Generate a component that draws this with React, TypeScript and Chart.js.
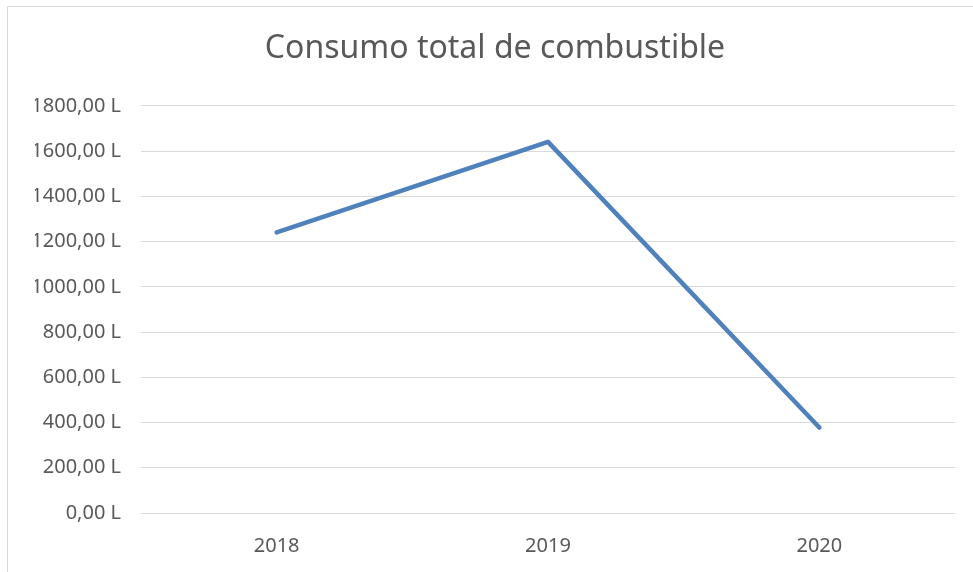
import React, { useEffect, useRef } from "react";
import { Chart, registerables } from "chart.js";

Chart.register(...registerables);

const categories: string[] = ["2018", "2019", "2020"];
const consumo: number[] = [1241, 1641, 378];
const yTicksMin = 0;
const yTicksMax = 1800;
const yTickStep = 200;
const titleText = "Consumo total de combustible";

const FONT = "'Noto Sans', 'Open Sans', sans-serif";

export default function App() {
  const ref = useRef<HTMLCanvasElement | null>(null);

  useEffect(() => {
    if (!ref.current) return;
    const chart = new Chart(ref.current, {
      type: "line",
      data: {
        labels: categories,
        datasets: [
          {
            data: consumo,
            borderColor: "#4f81bd",
            borderWidth: 4.5,
            pointRadius: 0,
            borderCapStyle: "round",
            borderJoinStyle: "round",
            tension: 0,
          },
        ],
      },
      options: {
        responsive: false,
        animation: false,
        layout: { padding: { left: 35, right: 18, top: 0, bottom: 0 } },
        plugins: {
          legend: { display: false },
          tooltip: { enabled: false },
          title: {
            display: true,
            text: titleText,
            color: "#595959",
            font: { family: FONT, size: 32, weight: "normal" },
            padding: { top: 30, bottom: 37.5 },
          },
        },
        scales: {
          x: {
            offset: true,
            grid: { display: false, drawTicks: false },
            border: { display: false },
            ticks: {
              color: "#595959",
              font: { family: FONT, size: 20 },
              padding: 21,
            },
            afterFit: (s: any) => {
              s.height = 59;
            },
          },
          y: {
            min: yTicksMin,
            max: yTicksMax,
            grid: { color: "#d9d9d9", lineWidth: 1, drawTicks: false },
            border: { display: false },
            ticks: {
              stepSize: yTickStep,
              color: "#595959",
              font: { family: FONT, size: 20 },
              padding: 20,
              callback: (v: any) => `${Number(v).toFixed(2).replace(".", ",")} L`,
            },
            afterFit: (s: any) => {
              s.width = 106;
            },
          },
        },
      },
    });
    return () => chart.destroy();
  }, []);

  return (
    <div style={{ position: "absolute", left: 0, top: 0, width: 973, height: 572, overflow: "hidden", background: "#fff" }}>
      <div
        style={{
          position: "absolute",
          left: 7,
          top: 6,
          width: 1000,
          height: 600,
          border: "1px solid #d9d9d9",
          boxSizing: "border-box",
        }}
      />
      <canvas ref={ref} width={973} height={572} style={{ position: "absolute", left: 0, top: 0, display: "block" }} />
    </div>
  );
}
